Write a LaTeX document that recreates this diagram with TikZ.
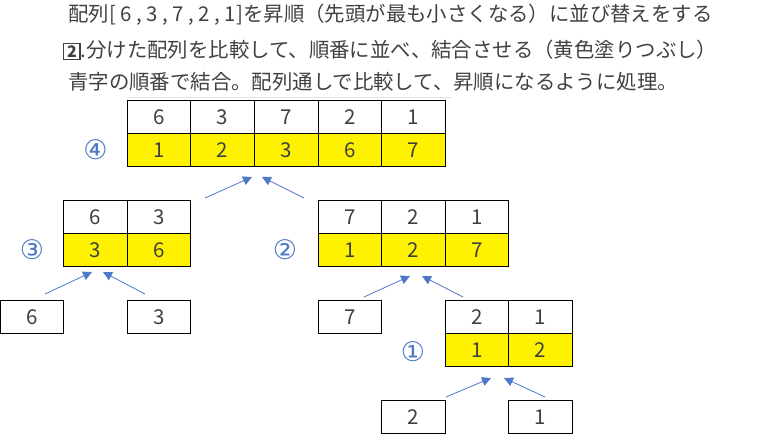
\documentclass[tikz,border=0pt]{standalone}
\usepackage{fontspec}
\setmainfont{Noto Sans CJK JP}
\newfontfamily\markfont{DejaVu Sans}
\usepackage{xcolor}
\usepackage{tikz}
\usetikzlibrary{arrows.meta}

\definecolor{markblue}{RGB}{78,120,200}
\definecolor{inkgray}{RGB}{64,64,64}

\tikzset{
  cell/.style={draw=black, fill=white, line width=0.8pt, minimum width=63.6pt, minimum height=33.3pt, inner sep=0pt, text=inkgray, font=\fontsize{20.5}{20.5}\selectfont},
  sorted/.style={cell, fill=yellow},
  stepno/.style={text=markblue, inner sep=0pt, font=\markfont\fontsize{27}{27}\selectfont},
  merge/.style={draw=markblue, line width=0.8pt, -{Triangle[length=9pt,width=9pt]}},
  textline/.style={anchor=west, inner sep=0pt, text=inkgray, font=\fontsize{20.4}{20.4}\selectfont}
}

\begin{document}
\begin{tikzpicture}[x=1pt,y=-1pt]
\useasboundingbox (0,0) rectangle (768,435);

% heading
\node[textline] (head1) at (68,15) {配列[ 6 , 3 , 7 , 2 , 1]を昇順（先頭が最も小さくなる）に並び替えをする};
\node[textline] (head2) at (63,50) {{\setlength\fboxsep{1.5pt}\setlength\fboxrule{1.2pt}\fbox{\makebox[12pt]{\fontsize{16}{16}\selectfont\textbf{2}}}}.分けた配列を比較して、順番に並べ、結合させる（黄色塗りつぶし）};
\node[textline] (head3) at (68,82) {青字の順番で結合。配列通しで比較して、昇順になるように処理。};
\draw[color=gray!25] (128,97.5) -- (452,97.5);

% whole array
\node[cell] (t1) at (159,116.7) {6};
\node[cell] (t2) at (222.6,116.7) {3};
\node[cell] (t3) at (286.2,116.7) {7};
\node[cell] (t4) at (349.8,116.7) {2};
\node[cell] (t5) at (413.4,116.7) {1};
\node[sorted] (ts1) at (159,150) {1};
\node[sorted] (ts2) at (222.6,150) {2};
\node[sorted] (ts3) at (286.2,150) {3};
\node[sorted] (ts4) at (349.8,150) {6};
\node[sorted] (ts5) at (413.4,150) {7};
\node[stepno] (no4) at (95.5,150) {④};

% left half
\node[cell] (l1) at (95.4,216.7) {6};
\node[cell] (l2) at (159,216.7) {3};
\node[sorted] (ls1) at (95.4,250) {3};
\node[sorted] (ls2) at (159,250) {6};
\node[stepno] (no3) at (32,250) {③};

% right half
\node[cell] (r1) at (349.8,216.7) {7};
\node[cell] (r2) at (413.4,216.7) {2};
\node[cell] (r3) at (477,216.7) {1};
\node[sorted] (rs1) at (349.8,250) {1};
\node[sorted] (rs2) at (413.4,250) {2};
\node[sorted] (rs3) at (477,250) {7};
\node[stepno] (no2) at (285,250) {②};

% single values and the last pair
\node[cell] (leaf6) at (31.8,316.7) {6};
\node[cell] (leaf3) at (159,316.7) {3};
\node[cell] (leaf7) at (349.8,316.7) {7};
\node[cell] (q1) at (477,316.7) {2};
\node[cell] (q2) at (540.6,316.7) {1};
\node[sorted] (qs1) at (477,350) {1};
\node[sorted] (qs2) at (540.6,350) {2};
\node[stepno] (no1) at (413,352) {①};
\node[cell] (leaf2) at (413.4,416.7) {2};
\node[cell] (leaf1) at (540.6,416.7) {1};

% arrow ends
\coordinate (m4a) at (205,198);
\coordinate (m4b) at (252,177);
\coordinate (m4c) at (304,198);
\coordinate (m4d) at (262,177);
\coordinate (m3a) at (45,294);
\coordinate (m3b) at (92,272);
\coordinate (m3c) at (145,294);
\coordinate (m3d) at (103,272);
\coordinate (m2a) at (364,297);
\coordinate (m2b) at (410,276);
\coordinate (m2c) at (463,297);
\coordinate (m2d) at (422,276);
\coordinate (m1a) at (446,397);
\coordinate (m1b) at (491,378);
\coordinate (m1c) at (545,397);
\coordinate (m1d) at (504,378);

% arrows
\draw[merge] (m4a) -- (m4b);
\draw[merge] (m4c) -- (m4d);
\draw[merge] (m3a) -- (m3b);
\draw[merge] (m3c) -- (m3d);
\draw[merge] (m2a) -- (m2b);
\draw[merge] (m2c) -- (m2d);
\draw[merge] (m1a) -- (m1b);
\draw[merge] (m1c) -- (m1d);
\end{tikzpicture}
\end{document}
